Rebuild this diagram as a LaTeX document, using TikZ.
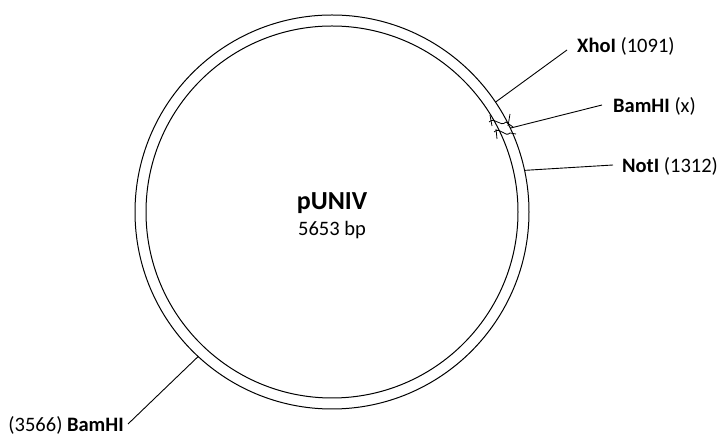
\documentclass[tikz,border=0pt]{standalone}
\usepackage{fontspec}
\setmainfont{Carlito}
\usetikzlibrary{calc}
\begin{document}
\begin{tikzpicture}[x=1pt,y=1pt,
    ring/.style={line width=1pt},
    leader/.style={line width=0.9pt},
    site/.style={inner sep=0pt, font=\fontsize{20.5}{24}\selectfont},
    cut/.style={line width=0.8pt}]
  \useasboundingbox (0,0) rectangle (718,438);
  \coordinate (c) at (332,226);

  % plasmid ring
  \draw[ring] (c) circle[radius=197];
  \draw[ring] (c) circle[radius=186];

  % break marks across the ring
  \draw[cut] (489,316) .. controls (495,322) and (500,310) .. (506,316) -- (513,311);
  \draw[cut] (494,306) .. controls (500,312) and (505,300) .. (510,305) -- (516,304);
  \draw[cut] (510,324) -- (508,312);
  \draw[cut] (496,309) -- (497,299);
  \draw[cut] (490,323) -- (492,312);

  % attachment points on the outer circle
  \coordinate (pXho) at ($(c)+(33.9:197)$);
  \coordinate (pBamx) at ($(c)+(25.2:197)$);
  \coordinate (pNot) at ($(c)+(12.2:197)$);
  \coordinate (pBam) at ($(c)+(227.2:197)$);

  % label ends of the leaders
  \coordinate (eXho) at (567,388);
  \coordinate (eBamx) at (602,333);
  \coordinate (eNot) at (613,273);
  \coordinate (eBam) at (128,14);

  \draw[leader] (pXho) -- (eXho);
  \draw[leader] (pBamx) -- (eBamx);
  \draw[leader] (pNot) -- (eNot);
  \draw[leader] (pBam) -- (eBam);

  \node[site, anchor=base west] (tXho) at (577,385) {\textbf{XhoI} (1091)};
  \node[site, anchor=base west] (tBamx) at (613,325) {\textbf{BamHI} (x)};
  \node[site, anchor=base west] (tNot) at (622,265) {\textbf{NotI} (1312)};
  \node[site, anchor=base east] (tBam) at (124,6) {(3566) \textbf{BamHI}};

  \node[inner sep=0pt, font=\fontsize{26}{30}\selectfont\bfseries] (name) at (332,235) {pUNIV};
  \node[site] (size) at (332,208) {5653 bp};
\end{tikzpicture}
\end{document}
